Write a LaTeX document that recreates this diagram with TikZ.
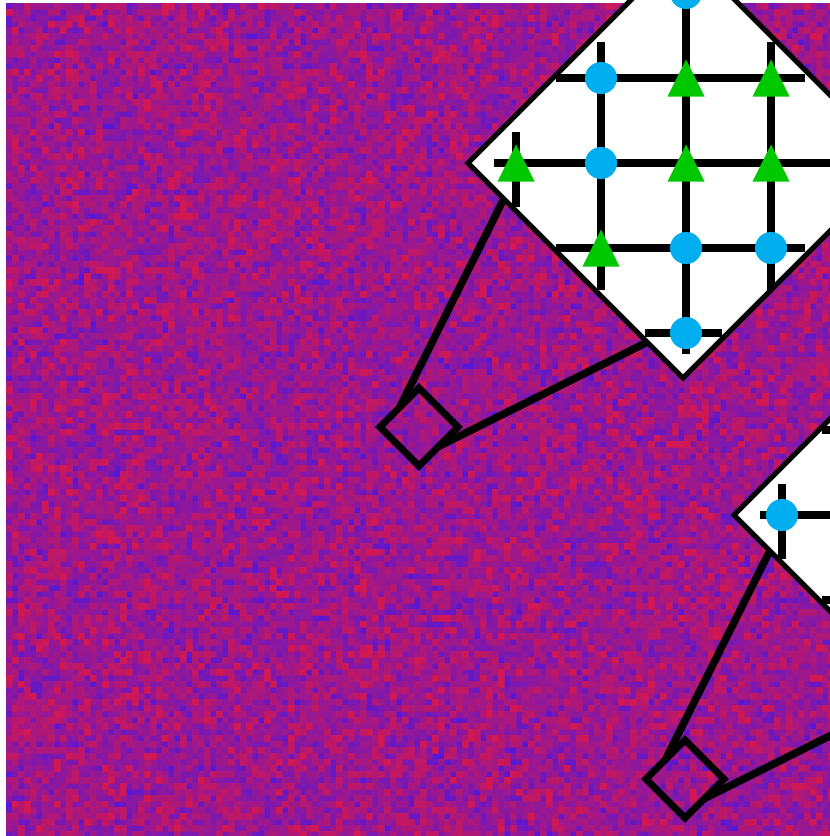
\documentclass[tikz,border=0pt]{standalone}
\usetikzlibrary{shapes.geometric,calc}
\definecolor{hotred}{RGB}{210,24,82}
\definecolor{coolblue}{RGB}{86,24,216}
\definecolor{beadblue}{HTML}{00AEEF}
\definecolor{leafgreen}{HTML}{00C800}

\pgfdeclarelayer{front}
\pgfsetlayers{main,front}

\tikzset{
  tri/.pic={\fill[leafgreen] (-18.5,18.5) -- (0,-18.5) -- (18.5,18.5) -- cycle;},
}

% one tone of the speckled field, as a single path of cells
\newcount\noisei \newcount\noisej \newcount\noisek
\newcommand\noisecolumn{%
  \pgfmathrandominteger{\toneA}{0}{7}%
  \pgfmathrandominteger{\toneB}{0}{7}%
  \ifnum\numexpr(\toneA+\toneB)/2\relax=\noisek
    \pgfpathrectangle{\pgfpoint{\dimexpr6pt+6pt*\noisei\relax}{\dimexpr-3pt-6pt*\noisej\relax}}%
      {\pgfpoint{6.6pt}{-6.6pt}}%
  \fi
  \advance\noisej by 1
  \ifnum\noisej<140 \expandafter\noisecolumn\fi}
\newcommand\noiselayer{%
  \pgfmathsetseed{4242}%
  \noisei=0
  \loop
    \noisej=0
    \noisecolumn
    \advance\noisei by 1
  \ifnum\noisei<138 \repeat}

\begin{document}
\begin{tikzpicture}[
  x=1pt, y=-1pt,
  lens/.style={diamond, draw=black, line width=7pt, minimum size=78pt,
               inner sep=0pt, outer sep=0pt},
  sheet/.style={diamond, draw=black, fill=white, line width=5pt,
                minimum size=430pt, inner sep=0pt, outer sep=0pt},
  tether/.style={draw=black, line width=7.5pt, shorten >=-6pt},
  wire/.style={draw=black, line width=8pt},
  bead/.style={circle, fill=beadblue, minimum size=32pt, inner sep=0pt},
]
\useasboundingbox (0,0) rectangle (830,836);

% speckled field
\begin{scope}
  \clip (6,3) rectangle (830,836);
  \foreach \k in {0,...,7}{
    \pgfmathtruncatemacro\pct{round(100*\k/7)}
    \noisek=\k
    \begin{pgfscope}
      \pgfsetfillcolor{hotred!\pct!coolblue}
      \noiselayer
      \pgfusepath{fill}
    \end{pgfscope}
  }
\end{scope}

\begin{pgfonlayer}{front}
% first probe and its lattice
\node[sheet] (sheetA) at (683,163) {};
\node[lens] (lensA) at (419,427) {};
\foreach \y/\a/\b in {-7/645/722, 78/556/805, 163/494/878, 248/556/805, 333/645/722}
  \draw[wire] (\a,\y) -- (\b,\y);
\foreach \x/\a/\b in {516/132/207, 601/42/290, 686/-28/354, 771/42/290, 856/132/207}
  \draw[wire] (\x,\a) -- (\x,\b);

\node[bead] (a1) at (686,-7) {};
\node[bead] (a2) at (601,78) {};
\node[bead] (a3) at (601,163) {};
\node[bead] (a4) at (686,248) {};
\node[bead] (a5) at (771,248) {};
\node[bead] (a6) at (686,333) {};
\pic at (686,78) {tri};
\pic at (771,78) {tri};
\pic at (516,163) {tri};
\pic at (686,163) {tri};
\pic at (771,163) {tri};
\pic at (601,248) {tri};

% second probe, same layout further down
\begin{scope}[shift={(266,352)}]
  \node[sheet] (sheetB) at (683,163) {};
  \node[lens] (lensB) at (419,427) {};
  \foreach \y/\a/\b in {78/556/805, 163/494/878, 248/556/805}
    \draw[wire] (\a,\y) -- (\b,\y);
  \draw[wire] (516,132) -- (516,207);
  \node[bead] (b1) at (516,163) {};
\end{scope}
\end{pgfonlayer}

\draw[tether] (lensA.north west) -- ($(sheetA.west)!1/6!(sheetA.south)$);
\draw[tether] (lensA.south east) -- ($(sheetA.west)!5/6!(sheetA.south)$);
\draw[tether] (lensB.north west) -- ($(sheetB.west)!1/6!(sheetB.south)$);
\draw[tether] (lensB.south east) -- ($(sheetB.west)!5/6!(sheetB.south)$);
\end{tikzpicture}
\end{document}
